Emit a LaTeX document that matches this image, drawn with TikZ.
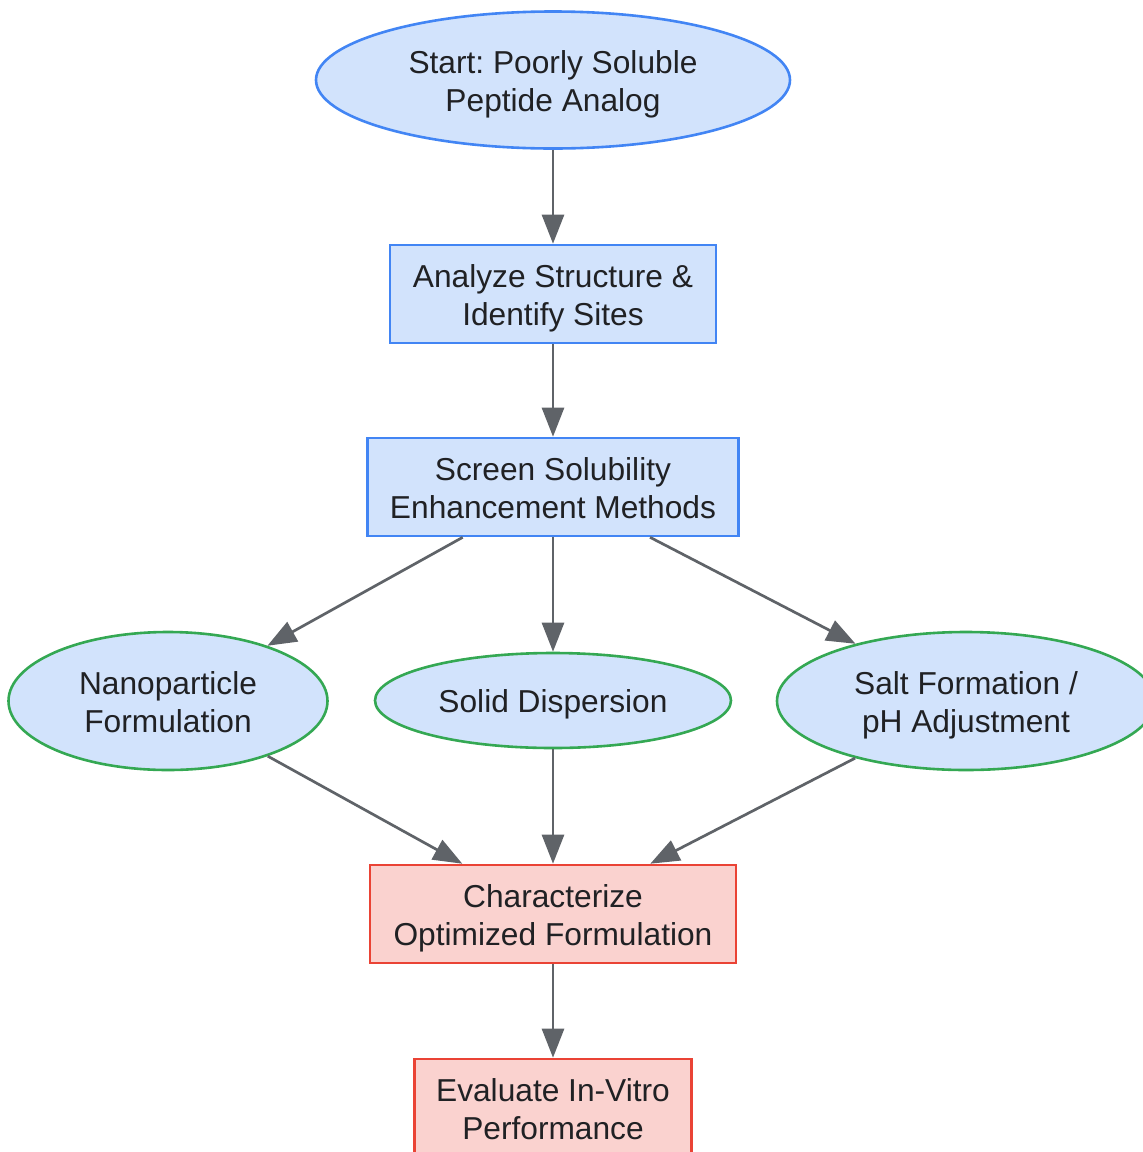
\documentclass[tikz,border=0pt]{standalone}
\usepackage{fontspec}
\setmainfont{Liberation Sans}
\frenchspacing
\usetikzlibrary{shapes.geometric,arrows.meta}
\definecolor{bluefill}{HTML}{D2E3FC}
\definecolor{blueline}{HTML}{4285F4}
\definecolor{greenline}{HTML}{34A853}
\definecolor{redfill}{HTML}{FAD2CF}
\definecolor{redline}{HTML}{EA4335}
\definecolor{edgegray}{HTML}{5F6368}
\definecolor{txt}{HTML}{202124}
\newcommand\lowr{\rule{0pt}{31.5pt}}
\newcommand\dpr{\rule[-7pt]{0pt}{7pt}}
\tikzset{
  base/.style={inner sep=0pt, line width=2.6pt, text=txt, align=center,
    font=\fontsize{31.7}{38}\selectfont},
  startnode/.style={base, ellipse, draw=blueline, fill=bluefill},
  bluebox/.style={base, rectangle, draw=blueline, fill=bluefill},
  greenell/.style={base, ellipse, draw=greenline, fill=bluefill},
  redbox/.style={base, rectangle, draw=redline, fill=redfill},
  flow/.style={draw=edgegray, line width=2.7pt,
    -{Triangle[length=29pt,width=22pt]}},
}
\begin{document}
\begin{tikzpicture}[x=1pt,y=-1pt]
\useasboundingbox (0,0) rectangle (1143,1152);
\node[startnode, minimum width=474pt, minimum height=137pt] (start) at (553,80) {\lowr Start: Poorly Soluble\\Peptide Analog\dpr};
\node[bluebox, minimum width=326pt, minimum height=98pt] (analyze) at (553,294) {\lowr Analyze Structure \&\\Identify Sites\dpr};
\node[bluebox, minimum width=371pt, minimum height=98pt] (screen) at (553,487) {\lowr Screen Solubility\\Enhancement Methods\dpr};
\node[greenell, minimum width=319pt, minimum height=138pt] (nano) at (168,701) {\lowr Nanoparticle\\Formulation\dpr};
\node[greenell, minimum width=356pt, minimum height=95pt] (solid) at (553,700.5) {\lowr Solid Dispersion\dpr};
\node[greenell, minimum width=378pt, minimum height=138pt] (salt) at (966,701) {\lowr Salt Formation /\\pH Adjustment\dpr};
\node[redbox, minimum width=366pt, minimum height=98pt] (char) at (553,914) {\lowr Characterize\\Optimized Formulation\dpr};
\node[redbox, minimum width=277pt, minimum height=98pt] (eval) at (553,1108) {\lowr Evaluate In-Vitro\\Performance\dpr};
\draw[flow] (start) -- (analyze);
\draw[flow] (analyze) -- (screen);
\draw[flow] (screen) -- (nano);
\draw[flow] (screen) -- (solid);
\draw[flow] (screen) -- (salt);
\draw[flow] (nano) -- (char);
\draw[flow] (solid) -- (char);
\draw[flow] (salt) -- (char);
\draw[flow] (char) -- (eval);
\end{tikzpicture}
\end{document}
